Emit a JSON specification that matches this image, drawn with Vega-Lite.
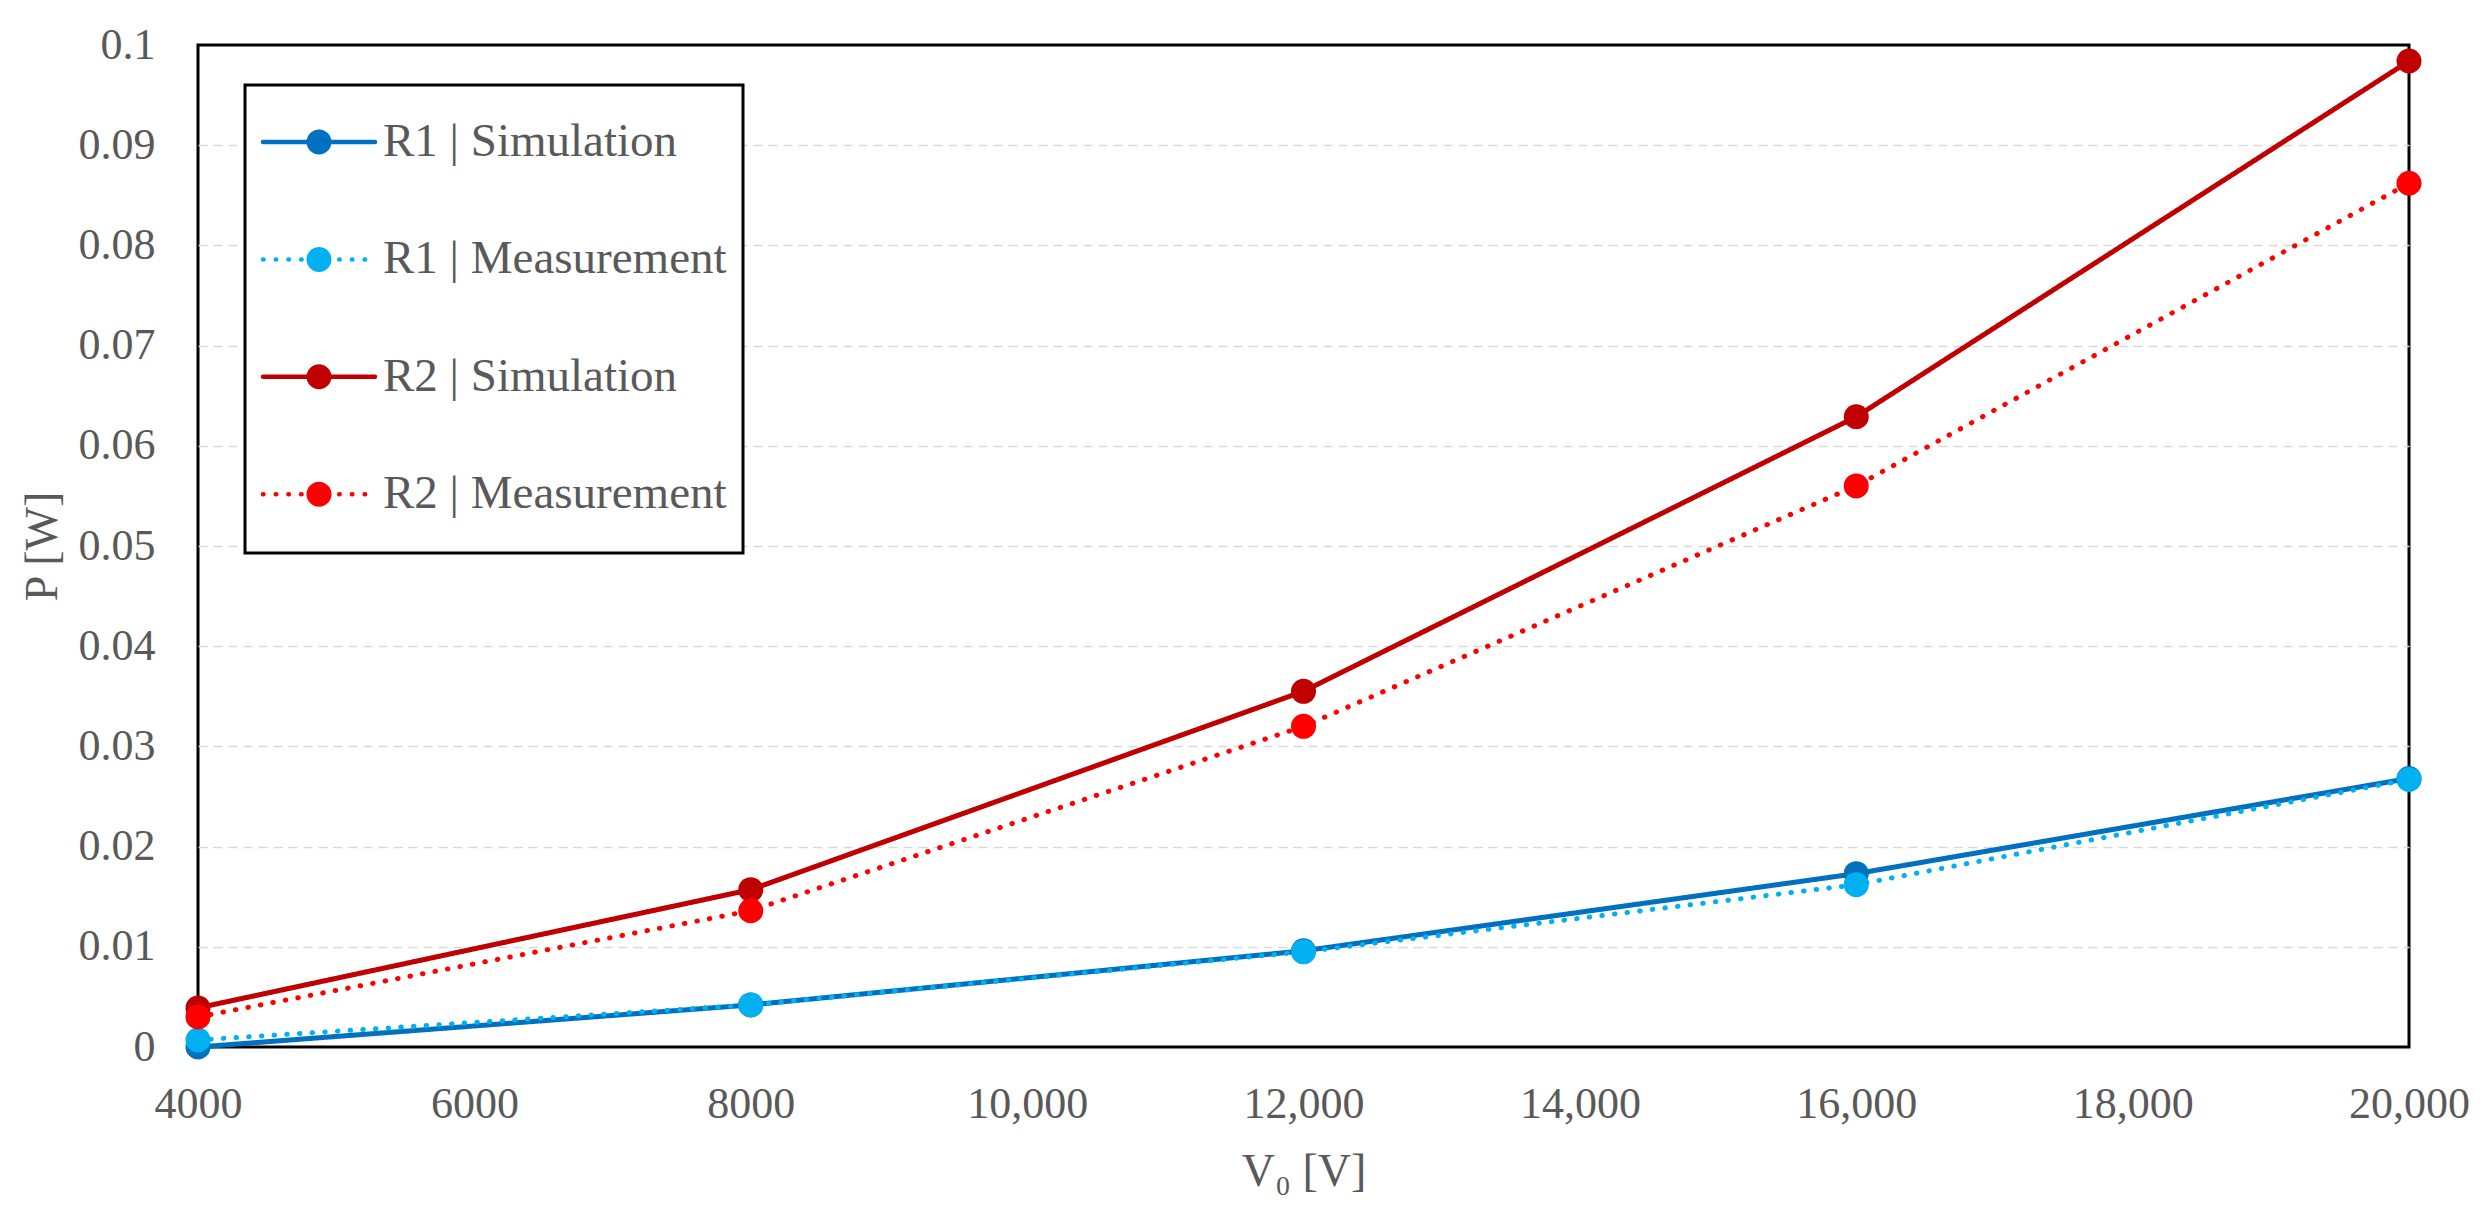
{
  "$schema": "https://vega.github.io/schema/vega-lite/v6.json",
  "width": 2211,
  "height": 1002,
  "autosize": {"type": "none"},
  "padding": {"left": 198, "top": 45, "right": 77, "bottom": 166},
  "background": "white",
  "config": {
    "view": {"stroke": "black", "strokeWidth": 3},
    "font": "Liberation Serif"
  },
  "data": {
    "values": [
      {"V": 4000, "P": 0.0000, "series": "R1 | Simulation"},
      {"V": 8000, "P": 0.0042, "series": "R1 | Simulation"},
      {"V": 12000, "P": 0.0096, "series": "R1 | Simulation"},
      {"V": 16000, "P": 0.0173, "series": "R1 | Simulation"},
      {"V": 20000, "P": 0.0268, "series": "R1 | Simulation"},
      {"V": 4000, "P": 0.0007, "series": "R1 | Measurement"},
      {"V": 8000, "P": 0.0042, "series": "R1 | Measurement"},
      {"V": 12000, "P": 0.0095, "series": "R1 | Measurement"},
      {"V": 16000, "P": 0.0162, "series": "R1 | Measurement"},
      {"V": 20000, "P": 0.0267, "series": "R1 | Measurement"},
      {"V": 4000, "P": 0.0039, "series": "R2 | Simulation"},
      {"V": 8000, "P": 0.0157, "series": "R2 | Simulation"},
      {"V": 12000, "P": 0.0355, "series": "R2 | Simulation"},
      {"V": 16000, "P": 0.0629, "series": "R2 | Simulation"},
      {"V": 20000, "P": 0.0984, "series": "R2 | Simulation"},
      {"V": 4000, "P": 0.0030, "series": "R2 | Measurement"},
      {"V": 8000, "P": 0.0136, "series": "R2 | Measurement"},
      {"V": 12000, "P": 0.0320, "series": "R2 | Measurement"},
      {"V": 16000, "P": 0.0560, "series": "R2 | Measurement"},
      {"V": 20000, "P": 0.0862, "series": "R2 | Measurement"}
    ]
  },
  "encoding": {
    "x": {
      "field": "V",
      "type": "quantitative",
      "scale": {"domain": [4000, 20000], "nice": false, "zero": false},
      "axis": {
        "values": [4000, 6000, 8000, 10000, 12000, 14000, 16000, 18000, 20000],
        "labelExpr": "datum.value >= 10000 ? format(datum.value, ',') : format(datum.value, 'd')",
        "title": "V₀ [V]",
        "domain": false,
        "ticks": false,
        "grid": false,
        "labelFont": "Liberation Serif",
        "labelFontSize": 44,
        "labelColor": "#595959",
        "labelPadding": 35,
        "labelFlush": false,
        "labelOverlap": false,
        "titleFont": "Liberation Serif",
        "titleFontSize": 46,
        "titleFontWeight": "normal",
        "titleColor": "#595959",
        "titleBaseline": "alphabetic",
        "titleY": 138
      }
    },
    "y": {
      "field": "P",
      "type": "quantitative",
      "scale": {"domain": [0, 0.1], "nice": false},
      "axis": {
        "values": [0, 0.01, 0.02, 0.03, 0.04, 0.05, 0.06, 0.07, 0.08, 0.09, 0.1],
        "labelExpr": "format(datum.value, '.2~f')",
        "title": "P [W]",
        "domain": false,
        "ticks": false,
        "grid": true,
        "gridColor": "#D9D9D9",
        "gridDash": [9, 6],
        "gridWidth": 1.5,
        "gridOpacity": {"condition": {"test": "datum.value <= 0.0001 || datum.value >= 0.0999", "value": 0}, "value": 1},
        "labelFont": "Liberation Serif",
        "labelFontSize": 44,
        "labelColor": "#595959",
        "labelPadding": 43,
        "labelFlush": false,
        "labelOverlap": false,
        "titleFont": "Liberation Serif",
        "titleFontSize": 46,
        "titleFontWeight": "normal",
        "titleColor": "#595959",
        "titleX": -156,
        "titleBaseline": "middle",
        "titleAngle": -90
      }
    }
  },
  "layer": [
    {
      "mark": {"type": "line", "strokeWidth": 5, "strokeCap": "round", "clip": false},
      "encoding": {
        "color": {
          "field": "series",
          "type": "nominal",
          "scale": {
            "domain": ["R1 | Simulation", "R1 | Measurement", "R2 | Simulation", "R2 | Measurement"],
            "range": ["#0070C0", "#00B0F0", "#C00000", "#FF0000"]
          },
          "legend": {
            "title": null,
            "orient": "none",
            "legendX": 47,
            "legendY": 40,
            "padding": 16,
            "symbolType": "M-1.445,0H1.445M0,0.87",
            "symbolSize": 6006,
            "symbolStrokeWidth": 4.5,
            "symbolOffset": 17,
            "labelFont": "Liberation Serif",
            "labelFontSize": 47,
            "labelColor": "#595959",
            "labelLimit": 600,
            "labelOffset": 23,
            "rowPadding": 33.4,
            "encode": {
              "legend": {
                "update": {
                  "stroke": {"value": "black"},
                  "strokeWidth": {"value": 3},
                  "fill": {"value": "white"}
                }
              },
              "symbols": {
                "update": {
                  "strokeCap": {"value": "round"}
                }
              }
            }
          }
        },
        "strokeDash": {
          "field": "series",
          "type": "nominal",
          "scale": {
            "domain": ["R1 | Simulation", "R1 | Measurement", "R2 | Simulation", "R2 | Measurement"],
            "range": [[1, 0], [0.5, 12.2], [1, 0], [0.5, 12.2]]
          },
          "legend": {
            "title": null,
            "orient": "none",
            "legendX": 47,
            "legendY": 40
          }
        }
      }
    },
    {
      "mark": {"type": "point", "filled": true, "size": 625, "opacity": 1, "strokeWidth": 0, "clip": false},
      "encoding": {
        "fill": {
          "field": "series",
          "type": "nominal",
          "scale": {
            "domain": ["R1 | Simulation", "R1 | Measurement", "R2 | Simulation", "R2 | Measurement"],
            "range": ["#0070C0", "#00B0F0", "#C00000", "#FF0000"]
          },
          "legend": {
            "title": null,
            "orient": "top-left",
            "offset": 40,
            "padding": 16,
            "symbolType": "M0,0.87M-0.3226,0A0.3226,0.3226,0,1,1,0.3226,0A0.3226,0.3226,0,1,1,-0.3226,0Z",
            "symbolSize": 6006,
            "symbolStrokeWidth": 4.5,
            "symbolStrokeColor": "transparent",
            "symbolOffset": 24,
            "labelFont": "Liberation Serif",
            "labelFontSize": 47,
            "labelColor": "#595959",
            "labelOpacity": 0,
            "labelLimit": 600,
            "labelOffset": 23,
            "rowPadding": 33.4,
            "encode": {
              "symbols": {
                "update": {
                  "stroke": {"value": "transparent"},
                  "fillOpacity": {"value": 1},
                  "opacity": {"value": 1}
                }
              }
            }
          }
        }
      }
    }
  ]
}
